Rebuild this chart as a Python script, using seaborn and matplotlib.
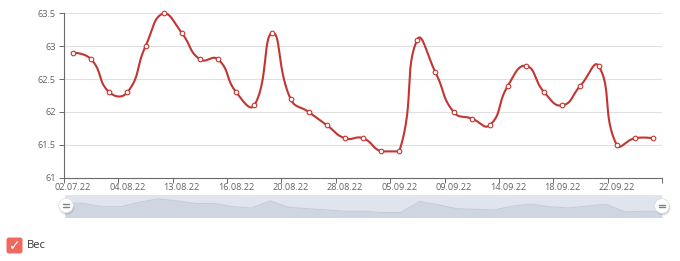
import numpy as np
import pandas as pd
import matplotlib
matplotlib.use("Agg")
import matplotlib.pyplot as plt
import seaborn as sns
from matplotlib.patches import FancyBboxPatch, Circle

# ---------------- data ----------------
tick_labels = ["02.07.22", "04.08.22", "13.08.22", "16.08.22", "20.08.22", "28.08.22",
               "05.09.22", "09.09.22", "14.09.22", "18.09.22", "22.09.22"]
weight = [62.9, 62.8, 62.3, 62.3, 63.0, 63.5, 63.2, 62.8, 62.8, 62.3, 62.1,
          63.2, 62.2, 62.0, 61.8, 61.6, 61.6, 61.4, 61.4, 63.1, 62.6, 62.0,
          61.9, 61.8, 62.4, 62.7, 62.3, 62.1, 62.4, 62.7, 61.5, 61.6, 61.6]
y_ticks = [61, 61.5, 62, 62.5, 63, 63.5]
series_name = "Вес"
label_step = 3

LINE = "#c23531"
AXIS = "#6a6a6a"
LABEL = "#626262"
W, H = 680, 261

sns.set_theme(style="white")
plt.rcParams['font.family'] = ['Open Sans', 'DejaVu Sans']

n = len(weight)
df = pd.DataFrame({"idx": np.arange(n), "value": weight})

fig = plt.figure(figsize=(W / 100, H / 100), dpi=100)
fig.patch.set_facecolor("white")
ax = fig.add_axes([64 / W, 1 - 177.7 / H, 598 / W, 164.4 / H])
ax.set_xlim(-0.5, n - 0.5)
ax.set_ylim(y_ticks[0], y_ticks[-1])


def echarts_smooth(ax, xs, ys, smooth=0.5, steps=30):
    pts = ax.transData.transform(np.column_stack([xs, ys]))
    mn, mx = pts.min(0), pts.max(0)
    m = len(pts)
    cp_in = [None] * m
    cp_out = [None] * m
    cp_out[0] = pts[0].copy()
    cp_in[m - 1] = pts[m - 1].copy()
    for i in range(1, m - 1):
        p, prev, nxt = pts[i], pts[i - 1], pts[i + 1]
        v = nxt - prev
        lp = np.hypot(*(p - prev))
        ln = np.hypot(*(nxt - p))
        r = ln / (ln + lp)
        cp_in[i] = np.clip(p - v * smooth * (1 - r), mn, mx)
        cp_out[i] = np.clip(p + v * smooth * r, mn, mx)
    t = np.linspace(0, 1, steps)[:, None]
    out = [pts[0:1]]
    for i in range(m - 1):
        p0, p1, p2, p3 = pts[i], cp_out[i], cp_in[i + 1], pts[i + 1]
        seg = ((1 - t) ** 3) * p0 + 3 * ((1 - t) ** 2) * t * p1 + 3 * (1 - t) * t ** 2 * p2 + t ** 3 * p3
        out.append(seg[1:])
    out = np.vstack(out)
    return ax.transData.inverted().transform(out)


# grid
for yv in y_ticks[1:]:
    ax.axhline(yv, color="#e0e0e0", lw=0.8, zorder=0)

curve = echarts_smooth(ax, df["idx"].values, df["value"].values)
cdf = pd.DataFrame({"x": curve[:, 0], "y": curve[:, 1]})
sns.lineplot(data=cdf, x="x", y="y", sort=False, estimator=None, color=LINE,
             lw=1.5, ax=ax, zorder=3)
sns.scatterplot(data=df, x="idx", y="value", marker="o", s=11, facecolor="white",
                edgecolor=LINE, linewidth=0.8, ax=ax, zorder=4, clip_on=False)

ax.set_xlim(-0.5, n - 0.5)
ax.set_ylim(y_ticks[0], y_ticks[-1])
ax.set_xlabel("")
ax.set_ylabel("")

# ticks
major_pos = list(range(0, n, label_step))
ax.set_xticks(major_pos)
ax.set_xticklabels(tick_labels[:len(major_pos)])
ax.set_xticks(np.arange(-0.5, n, label_step), minor=True)
ax.tick_params(axis="x", which="major", length=0, pad=4.0, labelsize=6.6, labelcolor=LABEL)
ax.tick_params(axis="x", which="minor", length=3.5, width=0.7, color=AXIS, direction="out", bottom=True)
ax.set_yticks(y_ticks)
ax.set_yticklabels([f"{v:g}" for v in y_ticks])
ax.tick_params(axis="y", which="major", length=3.5, width=0.7, color=AXIS, pad=2.5,
               labelsize=6.6, labelcolor=LABEL, left=True)

for s in ["top", "right"]:
    ax.spines[s].set_visible(False)
for s in ["left", "bottom"]:
    ax.spines[s].set_color(AXIS)
    ax.spines[s].set_linewidth(0.8)
ax.set_facecolor("none")

# ---------------- data zoom slider ----------------
sax = fig.add_axes([65 / W, 1 - 216.8 / H, 597 / W, 21.8 / H])
sax.set_facecolor("#dfe4ed")
sns.lineplot(data=df, x="idx", y="value", color="#c4cbd7", lw=0.7, ax=sax)
sax.fill_between(df["idx"], df["value"], 60.0, color="#d0d6e1", lw=0)
sax.set_xlim(0, n - 1)
sax.set_ylim(60.74, 64.11)
sax.set_xticks([])
sax.set_yticks([])
sax.set_xlabel("")
sax.set_ylabel("")
for s in sax.spines.values():
    s.set_visible(False)

# ---------------- overlay (handles + legend) ----------------
oax = fig.add_axes([0, 0, 1, 1])
oax.set_xlim(0, W)
oax.set_ylim(H, 0)
oax.axis("off")
oax.patch.set_visible(False)

for hx, hy in [(66, 205.5), (662, 206)]:
    oax.add_patch(Circle((hx + 0.8, hy + 1.6), 7.6, color="#8a8f99", alpha=0.35, lw=0))
    oax.add_patch(Circle((hx, hy), 7.3, facecolor="white", edgecolor="#d8dce3", lw=0.5))
    oax.plot([hx - 3, hx + 3], [hy - 1.3, hy - 1.3], color="#7b808a", lw=1.0, solid_capstyle="round")
    oax.plot([hx - 3, hx + 3], [hy + 1.3, hy + 1.3], color="#7b808a", lw=1.0, solid_capstyle="round")

oax.add_patch(FancyBboxPatch((6.5, 237.5), 16, 16, boxstyle="round,pad=0,rounding_size=2.5",
                             facecolor="#ee6a61", edgecolor="none"))
oax.text(14.5, 246, "✓", color="white", fontsize=10, ha="center", va="center",
         family=["DejaVu Sans"])
oax.text(27, 246, series_name, color="#333333", fontsize=8, ha="left", va="center")

fig.savefig("out.png", dpi=100, facecolor="white")
